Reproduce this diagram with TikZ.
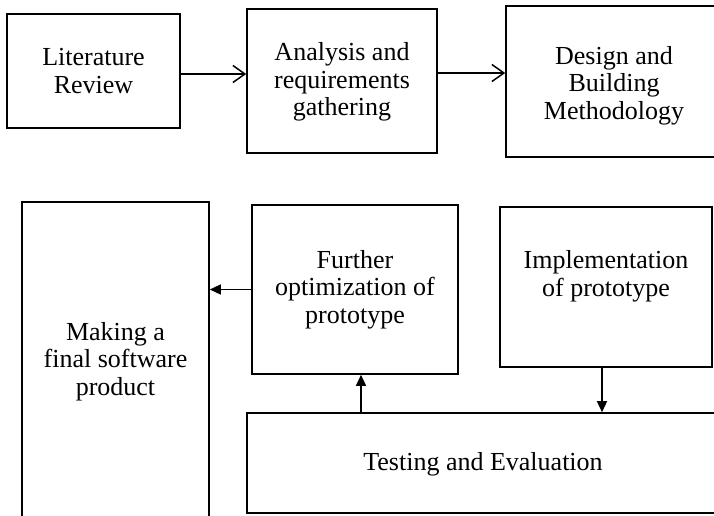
\documentclass[tikz,border=0pt]{standalone}
\usepackage{fontspec}
\setmainfont{Liberation Serif}
\usetikzlibrary{arrows.meta}
\newcommand{\lowered}[2]{\raisebox{-#1}[\height][\depth]{\begin{tabular}{@{}c@{}}#2\end{tabular}}}
\begin{document}
\begin{tikzpicture}[x=1pt,y=-1pt,
  box/.style={draw,line width=1.6pt,rectangle,align=center,inner sep=0pt,
    font=\fontsize{26}{27.5}\selectfont},
  txt/.style={align=center,inner sep=0pt,font=\fontsize{26}{27.5}\selectfont},
  oarr/.style={line width=1.5pt,-{Straight Barb[length=12pt,width=17pt,line width=1.5pt]}},
  farr/.style={line width=1.4pt,-{Triangle[length=11pt,width=10pt]}}]
\useasboundingbox (0,0) rectangle (714,515);
\node[box,minimum width=173pt,minimum height=114pt] (lit) at (93.5,71) {Literature\\Review};
\node[box,minimum width=190pt,minimum height=144pt] (ana) at (342,81) {\lowered{1.5pt}{Analysis and\\requirements\\gathering}};
\node[box,minimum width=216pt,minimum height=151pt] (des) at (614,81.5) {\lowered{4.5pt}{Design and\\Building\\Methodology}};
\node[box,minimum width=187pt,minimum height=316pt] (make) at (115.5,360) {\lowered{2pt}{Making a\\final software\\product}};
\node[box,minimum width=206pt,minimum height=169pt] (opt) at (355,289.5) {Further\\optimization of\\prototype};
\node[box,minimum width=212pt,minimum height=160pt] (impl) at (606,287) {};
\node[txt] (impltxt) at (606,276.5) {Implementation\\of prototype};
\node[box,minimum width=472pt,minimum height=100pt] (test) at (483,463) {\lowered{2pt}{Testing and Evaluation}};
\draw[oarr] ([yshift=-3pt]lit.east) coordinate (p1) -- (p1 -| ana.west);
\draw[oarr] ([yshift=8pt]ana.east) coordinate (p2) -- (p2 -| des.west);
\draw[farr] (opt.west) -- (opt.west -| make.east);
\draw[farr] ([xshift=-4pt]impl.south) coordinate (p3) -- (p3 |- test.north);
\path ([xshift=6pt]opt.south) coordinate (p4);
\draw[farr] (p4 |- test.north) -- (p4);
\end{tikzpicture}
\end{document}
